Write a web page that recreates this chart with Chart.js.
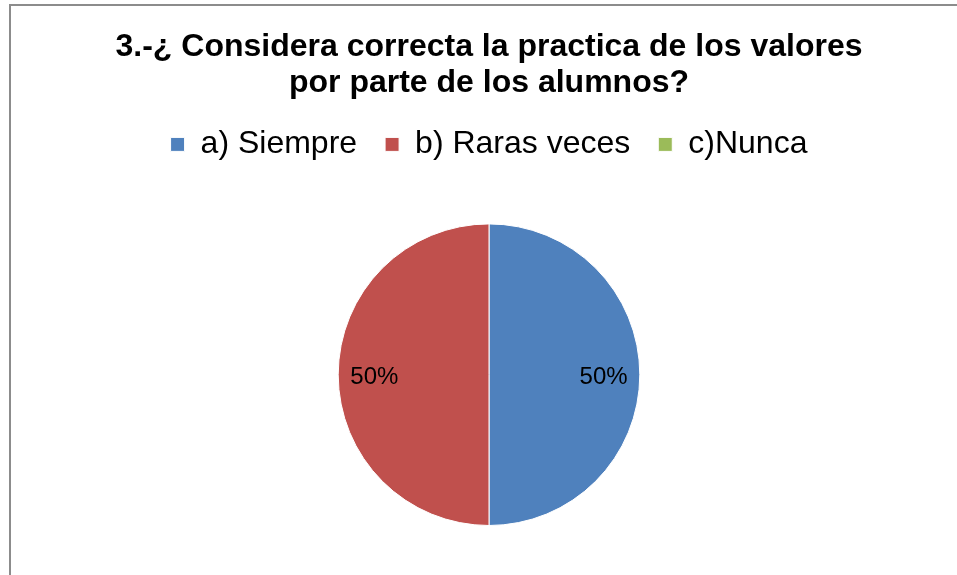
<!DOCTYPE html>
<html>
<head>
<meta charset="utf-8">
<script src="https://cdn.jsdelivr.net/npm/chart.js@4.4.1/dist/chart.umd.min.js"></script>
<style>
  html, body { margin: 0; padding: 0; background: #fff; overflow: hidden; }
  #box {
    position: absolute; left: 9px; top: 4px;
    width: 960px; height: 580px;
    border-left: 2px solid #8c8c8c; border-top: 2px solid #8c8c8c;
  }
  #wrap { position: absolute; left: 0; top: 0; width: 956px; height: 569px; }
</style>
</head>
<body>
<div id="box"><div id="wrap"><canvas id="pieChart"></canvas></div></div>
<script>
// datos de la pregunta 3
const categories = ["a) Siempre", "b) Raras veces", "c)Nunca"];
const values = [50, 50, 0];
const colors = ["#4F81BD", "#C0504D", "#9BBB59"];

// etiquetas de porcentaje dentro de cada rebanada
const pctLabels = {
  id: 'pctLabels',
  afterDatasetsDraw(chart) {
    const ctx = chart.ctx;
    const meta = chart.getDatasetMeta(0);
    const total = values.reduce((a, b) => a + b, 0);
    ctx.save();
    ctx.font = '24px "Liberation Sans", Arial, sans-serif';
    ctx.fillStyle = '#000';
    ctx.textAlign = 'center';
    ctx.textBaseline = 'middle';
    meta.data.forEach((arc, i) => {
      if (!values[i]) return;
      const p = arc.getProps(['x', 'y', 'startAngle', 'endAngle', 'outerRadius']);
      const mid = (p.startAngle + p.endAngle) / 2;
      const r = p.outerRadius * 0.76;
      const txt = Math.round(values[i] / total * 100) + '%';
      ctx.fillText(txt, p.x + Math.cos(mid) * r, p.y + Math.sin(mid) * r + 3);
    });
    ctx.restore();
  }
};

// espacio extra debajo de la leyenda
const legendGap = {
  id: 'legendGap',
  beforeInit(chart) {
    const fitOrig = chart.legend.fit;
    chart.legend.fit = function () {
      fitOrig.bind(chart.legend)();
      this.height += 53;
    };
  }
};

const ctx = document.getElementById('pieChart').getContext('2d');
const pieChart = new Chart(ctx, {
  type: 'pie',
  data: {
    labels: categories,
    datasets: [{
      data: values,
      backgroundColor: colors,
      borderColor: '#ffffff',
      borderWidth: 1
    }]
  },
  options: {
    responsive: true,
    maintainAspectRatio: false,
    animation: false,
    layout: { padding: { top: 0, bottom: 49 } },
    plugins: {
      title: {
        display: true,
        text: ['3.-¿ Considera correcta la practica de los valores', 'por parte de los alumnos?'],
        color: '#000',
        font: { family: '"Liberation Sans", Arial, sans-serif', size: 32, weight: 'bold', lineHeight: 1.1 },
        padding: { top: 24, bottom: 0 }
      },
      legend: {
        display: true,
        position: 'top',
        labels: {
          color: '#000',
          boxWidth: 14,
          boxHeight: 14,
          padding: 28,
          font: { family: '"Liberation Sans", Arial, sans-serif', size: 32 }
        }
      },
      tooltip: { enabled: false }
    }
  },
  plugins: [pctLabels, legendGap]
});
</script>
</body>
</html>
